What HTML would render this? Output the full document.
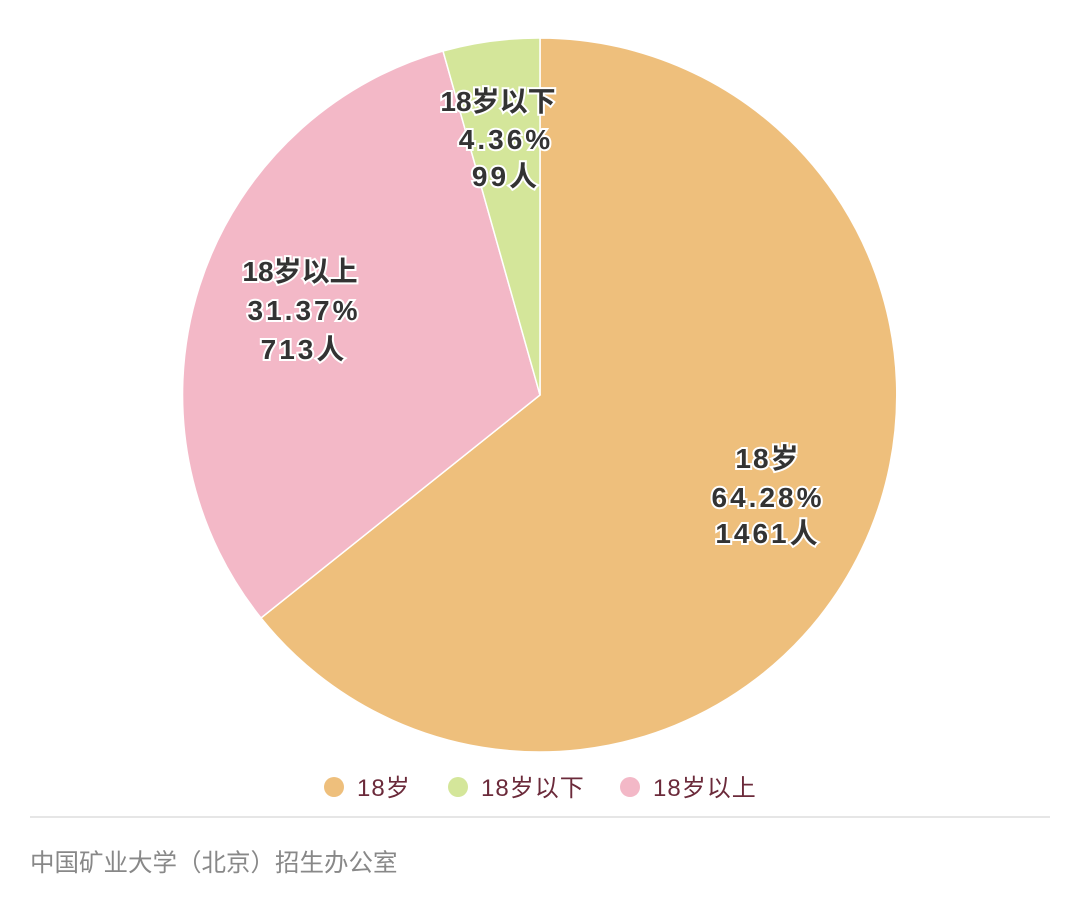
<!DOCTYPE html>
<html><head><meta charset="utf-8"><style>
body{margin:0;background:#fff;width:1080px;height:918px;overflow:hidden;font-family:"Liberation Sans","Noto Sans CJK SC",sans-serif}
</style></head><body>
<svg width="1080" height="918" xmlns="http://www.w3.org/2000/svg" style="position:absolute;left:0;top:0">
<g stroke="#fff" stroke-width="1.5">
<path d="M540,395 L540,38 A357,357 0 1 1 261,618 Z" fill="#EEBF7C"/>
<path d="M540,395 L261,618 A357,357 0 0 1 443,51 Z" fill="#F3B8C7"/>
<path d="M540,395 L443,51 A357,357 0 0 1 540,38 Z" fill="#D4E69A"/>
</g>
<g font-family="Liberation Sans, Noto Sans CJK SC, sans-serif" font-weight="bold" font-size="28" fill="#333" stroke="#fff" stroke-width="4" paint-order="stroke" text-anchor="middle">
<text x="498" y="111" letter-spacing="0">18岁以下</text><text x="506" y="149" letter-spacing="3">4.36%</text><text x="506" y="186" letter-spacing="3">99人</text>
<text x="300" y="281" letter-spacing="0">18岁以上</text><text x="304" y="320" letter-spacing="3">31.37%</text><text x="304" y="359" letter-spacing="3">713人</text>
<text x="768" y="468" letter-spacing="2">18岁</text><text x="768" y="507" letter-spacing="3">64.28%</text><text x="768" y="543" letter-spacing="3">1461人</text>
</g>
<g font-family="Liberation Sans, Noto Sans CJK SC, sans-serif" font-size="24" fill="#6b2a3a" letter-spacing="1">
<circle cx="334" cy="787" r="10" fill="#EEBF7C"/><text x="357" y="796">18岁</text>
<circle cx="458" cy="787" r="10" fill="#D4E69A"/><text x="481" y="796">18岁以下</text>
<circle cx="630" cy="787" r="10" fill="#F3B8C7"/><text x="653" y="796">18岁以上</text>
</g>
<line x1="30" y1="817" x2="1050" y2="817" stroke="#ddd" stroke-width="1.5"/>
<text x="30" y="871" font-family="Liberation Sans, Noto Sans CJK SC, sans-serif" font-size="24.5" fill="#888">中国矿业大学（北京）招生办公室</text>
</svg>
</body></html>
